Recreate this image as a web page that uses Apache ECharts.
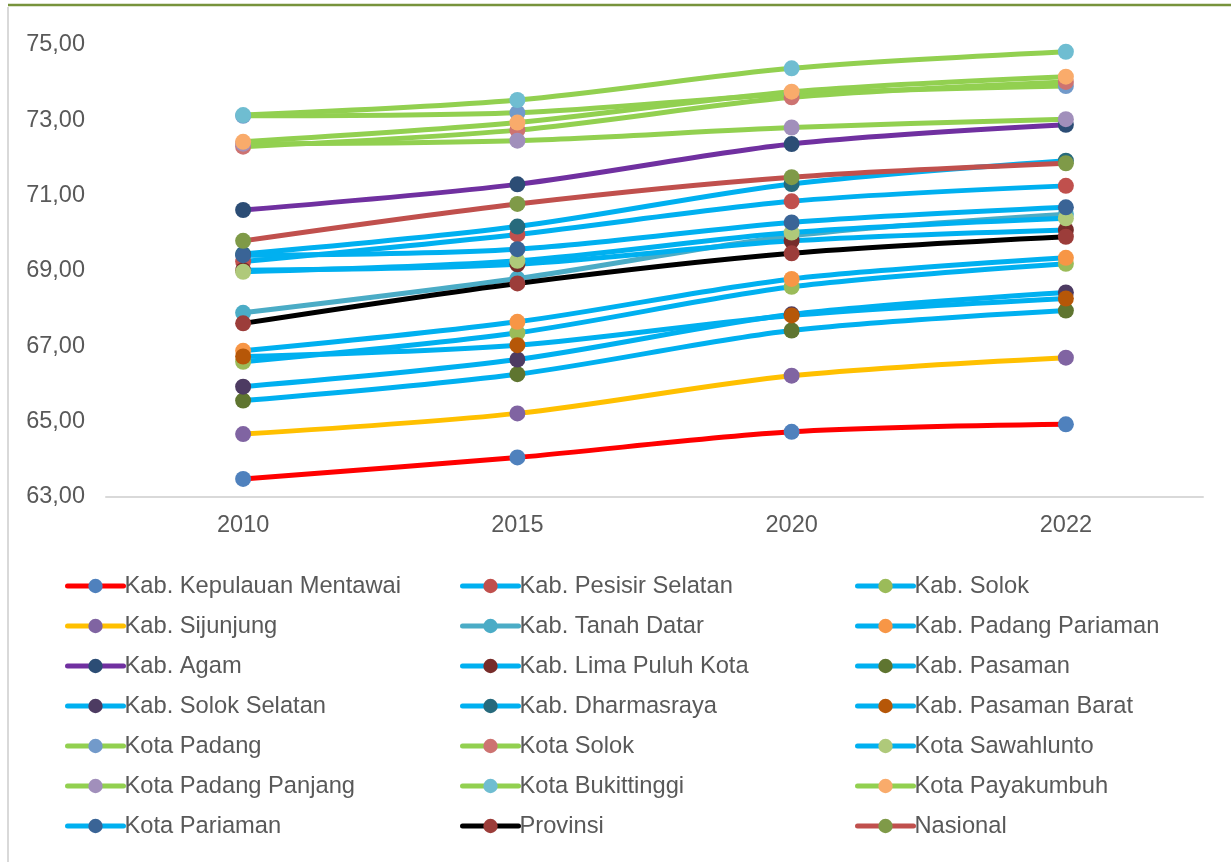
<!DOCTYPE html>
<html>
<head>
<meta charset="utf-8">
<script src="https://cdn.jsdelivr.net/npm/echarts@6/dist/echarts.min.js"></script>
<style>
html,body{margin:0;padding:0;background:#fff;}
#chart{width:1231px;height:862px;}
</style>
</head>
<body>
<div id="chart"></div>
<script>
const categories = ['2010', '2015', '2020', '2022'];
const yTicks = [63, 65, 67, 69, 71, 73, 75];

const mentawai       = [63.48, 64.05, 64.73, 64.93];
const pesisirSelatan = [69.25, 69.97, 70.85, 71.26];
const solok          = [66.59, 67.36, 68.58, 69.19];
const sijunjung      = [64.67, 65.22, 66.22, 66.70];
const tanahDatar     = [67.89, 68.80, 69.93, 70.51];
const padangPariaman = [66.88, 67.65, 68.79, 69.35];
const agam           = [70.62, 71.30, 72.37, 72.88];
const limaPuluhKota  = [69.02, 69.18, 69.80, 70.09];
const pasaman        = [65.56, 66.26, 67.42, 67.95];
const solokSelatan   = [65.93, 66.65, 67.85, 68.43];
const dharmasraya    = [69.45, 70.18, 71.31, 71.93];
const pasamanBarat   = [66.73, 67.03, 67.82, 68.27];
const kotaPadang     = [73.12, 73.20, 73.70, 73.91];
const kotaSolok      = [72.30, 72.74, 73.61, 74.02];
const sawahlunto     = [68.98, 69.27, 70.02, 70.40];
const padangPanjang  = [72.38, 72.46, 72.81, 73.03];
const bukittinggi    = [73.14, 73.54, 74.38, 74.82];
const payakumbuh     = [72.43, 72.94, 73.76, 74.16];
const kotaPariaman   = [69.42, 69.58, 70.29, 70.69];
const provinsi       = [67.61, 68.67, 69.47, 69.91];
const nasional       = [69.80, 70.78, 71.49, 71.86];

const seriesNames = [
  'Kab. Kepulauan Mentawai', 'Kab. Pesisir Selatan', 'Kab. Solok',
  'Kab. Sijunjung', 'Kab. Tanah Datar', 'Kab. Padang Pariaman',
  'Kab. Agam', 'Kab. Lima Puluh Kota', 'Kab. Pasaman',
  'Kab. Solok Selatan', 'Kab. Dharmasraya', 'Kab. Pasaman Barat',
  'Kota Padang', 'Kota Solok', 'Kota Sawahlunto',
  'Kota Padang Panjang', 'Kota Bukittinggi', 'Kota Payakumbuh',
  'Kota Pariaman', 'Provinsi', 'Nasional'
];
const seriesValues = [
  mentawai, pesisirSelatan, solok,
  sijunjung, tanahDatar, padangPariaman,
  agam, limaPuluhKota, pasaman,
  solokSelatan, dharmasraya, pasamanBarat,
  kotaPadang, kotaSolok, sawahlunto,
  padangPanjang, bukittinggi, payakumbuh,
  kotaPariaman, provinsi, nasional
];

const lineColors = [
  '#FF0000', '#00B0F0', '#00B0F0',
  '#FFC000', '#4BACC6', '#00B0F0',
  '#7030A0', '#00B0F0', '#00B0F0',
  '#00B0F0', '#00B0F0', '#00B0F0',
  '#92D050', '#92D050', '#00B0F0',
  '#92D050', '#92D050', '#92D050',
  '#00B0F0', '#000000', '#C0504D'
];
const markerColors = [
  '#4F81BD', '#C0504D', '#9BBB59',
  '#8064A2', '#4BACC6', '#F79646',
  '#2C4D75', '#772C2A', '#5F7530',
  '#4D3B62', '#276A7C', '#B65708',
  '#729ACA', '#CD7371', '#AFC97A',
  '#A18FBB', '#6FBDD1', '#F9AB6B',
  '#3A6496', '#9C3D3A', '#7F9A48'
];

const textColor = '#595959';
const fontFamily = '"Liberation Sans", Arial, sans-serif';

const series = seriesNames.map((name, i) => ({
  name: name,
  type: 'line',
  data: seriesValues[i],
  smooth: 0.3,
  symbol: 'circle',
  symbolSize: 16,
  lineStyle: { color: lineColors[i], width: 5 },
  itemStyle: { color: markerColors[i] },
  emphasis: { disabled: true }
}));

function legendCol(colIdx, left) {
  return {
    orient: 'vertical',
    left: left,
    top: 573,
    padding: 0,
    itemWidth: 56,
    itemHeight: 18,
    itemGap: 14,
    selectedMode: false,
    lineStyle: { width: 5, cap: 'round' },
    textStyle: { color: textColor, fontSize: 23.7, fontFamily: fontFamily, lineHeight: 26, padding: [0, 0, 0, -4] },
    data: seriesNames.filter((n, i) => i % 3 === colIdx)
  };
}

const chart = echarts.init(document.getElementById('chart'), null, { renderer: 'canvas' });
chart.setOption({
  animation: false,
  backgroundColor: '#ffffff',
  grid: { left: 106, right: 28, top: 45, bottom: 365, containLabel: false },
  xAxis: {
    type: 'category',
    data: categories,
    boundaryGap: true,
    axisLine: { show: true, lineStyle: { color: '#D9D9D9', width: 2 } },
    axisTick: { show: false },
    axisLabel: { color: textColor, fontSize: 23.5, fontFamily: fontFamily, margin: 17 },
    splitLine: { show: false }
  },
  yAxis: {
    type: 'value',
    min: yTicks[0],
    max: yTicks[yTicks.length - 1],
    interval: yTicks[1] - yTicks[0],
    axisLine: { show: false },
    axisTick: { show: false },
    splitLine: { show: false },
    axisLabel: {
      color: textColor, fontSize: 23.5, fontFamily: fontFamily, margin: 21,
      formatter: v => v.toFixed(2).replace('.', ',')
    }
  },
  legend: [legendCol(0, 65), legendCol(1, 460), legendCol(2, 855)],
  graphic: [
    { type: 'line', shape: { x1: 8, y1: 5, x2: 1231, y2: 5 }, style: { stroke: '#77933C', lineWidth: 2.5 }, silent: true },
    { type: 'line', shape: { x1: 8, y1: 7, x2: 8, y2: 862 }, style: { stroke: '#D9D9D9', lineWidth: 2 }, silent: true }
  ],
  series: series
});
</script>
</body>
</html>
